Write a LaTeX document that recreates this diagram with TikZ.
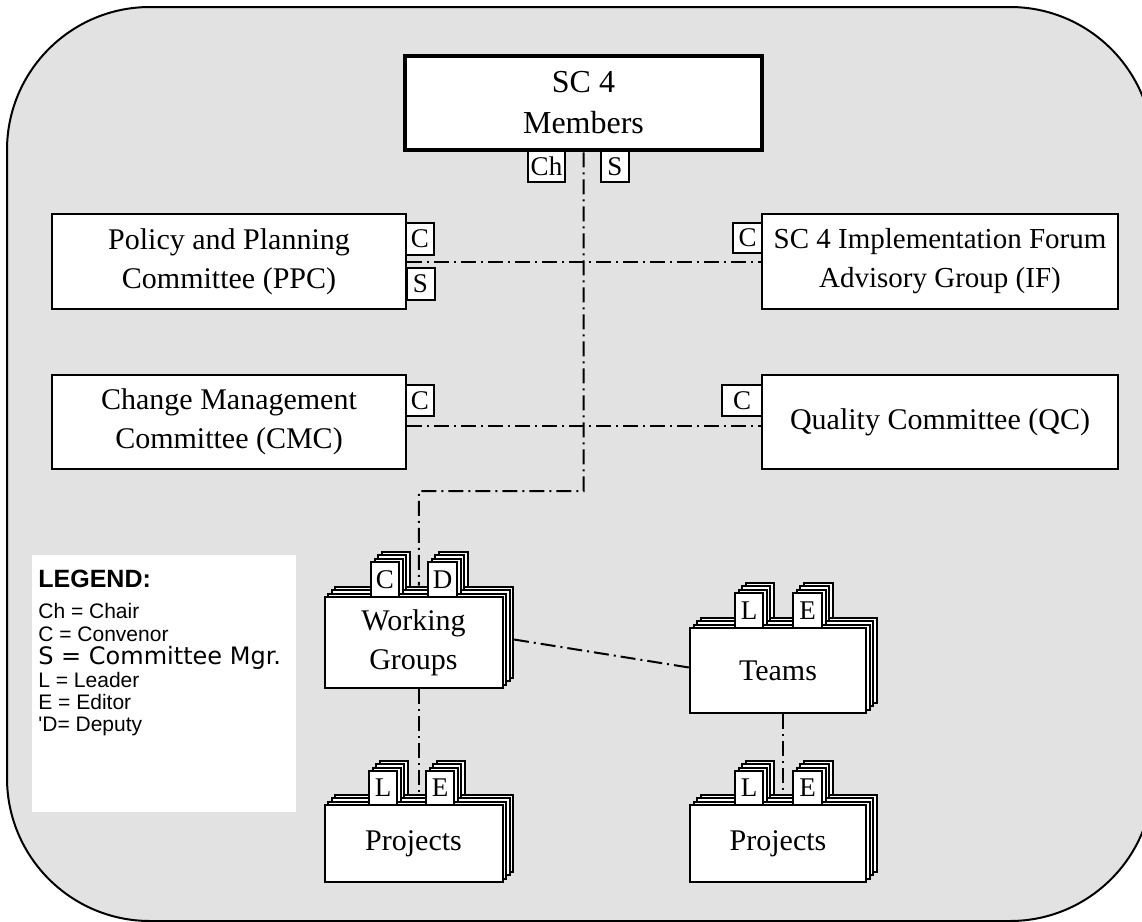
\documentclass[tikz,border=0pt]{standalone}
\usepackage{fontspec}
\setmainfont{Liberation Serif}
\newfontfamily\legendfont{Liberation Sans}
\newfontfamily\legendwide{DejaVu Sans}
\usetikzlibrary{shadows}

\newlength{\du}
\setlength{\du}{0.5pt}

\definecolor{panelgray}{rgb}{0.886, 0.886, 0.886}

\tikzset{
  orgbox/.style={draw, fill=white, line width=2\du, align=center, inner sep=0pt,
    font=\fontsize{15}{19.5}\selectfont},
  tagbox/.style={draw, fill=white, line width=2\du, inner sep=0pt,
    font=\fontsize{13.5}{14}\selectfont},
  stacked/.style={copy shadow={shadow xshift=10.5\du, shadow yshift=10.5\du},
    copy shadow={shadow xshift=7\du, shadow yshift=7\du},
    copy shadow={shadow xshift=3.5\du, shadow yshift=3.5\du}},
  link/.style={line width=2\du, dash pattern=on 15\du off 5\du on 2\du off 5\du},
  legendtext/.style={anchor=base west, inner sep=0pt,
    font=\legendfont\fontsize{10.5}{12}\selectfont},
}

\begin{document}
\begin{tikzpicture}[x=\du, y=-\du]
\useasboundingbox (0,0) rectangle (1142,922);
\clip (0,0) rectangle (1142,922);
% grey panel
\draw[line width=2\du, fill=panelgray, rounded corners=143\du] (7,7) rectangle (1153,921);

% legend
\node[fill=white, inner sep=0pt, minimum width=264\du, minimum height=257\du] (legend) at (164,683.5) {};
\node[legendtext, font=\legendfont\bfseries\fontsize{12.5}{14}\selectfont] (legtitle) at (38,587) {LEGEND:};
\node[legendtext] (legch) at (38,618) {Ch = Chair};
\node[legendtext] (legc) at (38,641) {C = Convenor};
\node[legendtext, font=\legendwide\fontsize{12}{13}\selectfont] (legs) at (38,664) {S = Committee Mgr.};
\node[legendtext] (legl) at (38,687) {L = Leader};
\node[legendtext] (lege) at (38,709) {E = Editor};
\node[legendtext] (legd) at (38,731) {\textquotesingle D= Deputy};

% committees
\node[orgbox, line width=4.5\du, minimum width=357\du, minimum height=94\du,
  font=\fontsize{16}{20.5}\selectfont] (sc4) at (583.5,103) {SC 4\\Members};
\node[orgbox, minimum width=354\du, minimum height=95\du] (ppc) at (229,261.5) {Policy and Planning\\Committee (PPC)};
\node[orgbox, minimum width=356\du, minimum height=95\du, font=\fontsize{14.5}{19.5}\selectfont] (ifg) at (940,261.5) {SC 4 Implementation Forum\\Advisory Group (IF)};
\node[orgbox, minimum width=354\du, minimum height=94\du] (cmc) at (229,422) {Change Management\\Committee (CMC)};
\node[orgbox, minimum width=356\du, minimum height=94\du] (qc) at (940,422) {Quality Committee (QC)};

% stacked groups
\node[orgbox, stacked, minimum width=178\du, minimum height=91\du] (wg) at (413.5,642.5) {Working\\Groups};
\node[orgbox, stacked, minimum width=176\du, minimum height=85\du] (teams) at (778,670.5) {Teams};
\node[orgbox, stacked, minimum width=178\du, minimum height=77\du] (proja) at (413.5,843.5) {Projects};
\node[orgbox, stacked, minimum width=176\du, minimum height=77\du] (projb) at (778,843.5) {Projects};

% role tags
\node[tagbox, minimum width=37\du, minimum height=31\du] (sc4ch) at (546.5,166.5) {Ch};
\node[tagbox, minimum width=28\du, minimum height=31\du] (sc4s) at (615,166.5) {S};
\node[tagbox, minimum width=28\du, minimum height=32\du] (ppcc) at (420,239) {C};
\node[tagbox, minimum width=28\du, minimum height=32\du] (ppcs) at (420.5,284) {S};
\node[tagbox, minimum width=29\du, minimum height=30\du] (ifc) at (747.5,238) {C};
\node[tagbox, minimum width=28\du, minimum height=31\du] (cmcc) at (420,400.5) {C};
\node[tagbox, minimum width=40\du, minimum height=31\du] (qcc) at (742,400.5) {C};
\node[tagbox, stacked, minimum width=28\du, minimum height=35\du] (wgc) at (385,579.5) {C};
\node[tagbox, stacked, minimum width=29\du, minimum height=35\du] (wgd) at (442.5,579.5) {D};
\node[tagbox, stacked, minimum width=28\du, minimum height=35\du] (teamsl) at (749,610.5) {L};
\node[tagbox, stacked, minimum width=29\du, minimum height=35\du] (teamse) at (807.5,610.5) {E};
\node[tagbox, stacked, minimum width=28\du, minimum height=34\du] (projal) at (383,788) {L};
\node[tagbox, stacked, minimum width=28\du, minimum height=34\du] (projae) at (440,788) {E};
\node[tagbox, stacked, minimum width=28\du, minimum height=34\du] (projbl) at (749,788) {L};
\node[tagbox, stacked, minimum width=29\du, minimum height=34\du] (projbe) at (807.5,788) {E};

% reporting lines
\coordinate (wgbend) at (419,491);
\draw[link] (sc4.south) |- (wgbend) -- ([xshift=5.25\du,yshift=10.5\du]wg.north);
\draw[link] (ppc.east) -- (ifg.west);
\draw[link] ([yshift=-4\du]cmc.east) -- ([yshift=-4\du]qc.west);
\draw[link] ([xshift=10.5\du,yshift=3\du]wg.east) -- ([yshift=3\du]teams.west);
\draw[link] ([xshift=5.25\du]wg.south) -- ([xshift=5.25\du,yshift=10.5\du]proja.north);
\draw[link] ([xshift=5.25\du]teams.south) -- ([xshift=5.25\du,yshift=10.5\du]projb.north);
\end{tikzpicture}
\end{document}
